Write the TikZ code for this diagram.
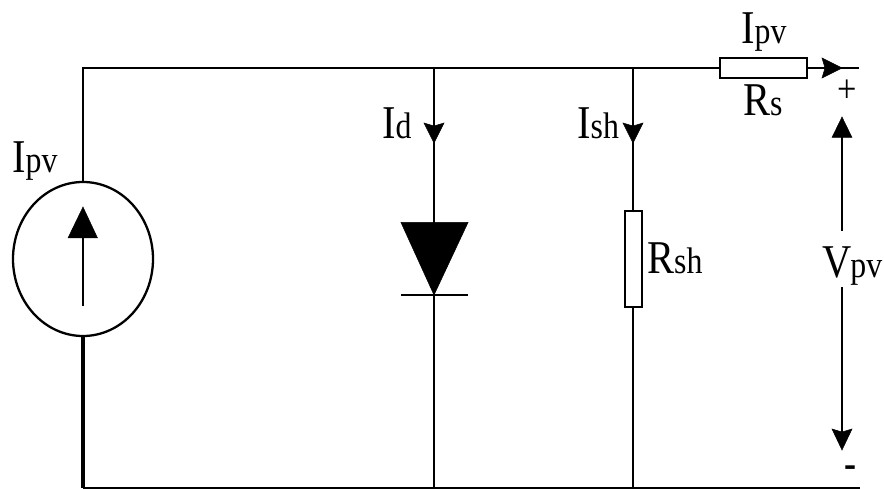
\documentclass[tikz,border=0pt]{standalone}
\usepackage{fontspec}
\usetikzlibrary{shapes.geometric}
\setmainfont[FakeStretch=0.86]{Liberation Serif}
\newcommand{\sbs}[1]{{\fontsize{37}{37}\selectfont #1}}
\begin{document}
\begin{tikzpicture}[x=1pt,y=-1pt,
  wire/.style={line width=2.3pt,black},
  comp/.style={draw=black,line width=2pt,fill=white,inner sep=0pt},
  tip/.style={fill=black,draw=black,line width=0.5pt,line join=miter},
  lab/.style={inner sep=0pt,anchor=base west,font=\fontsize{47}{47}\selectfont}]
\useasboundingbox (0,0) rectangle (884,489);
\coordinate (tl) at (83,68);
\coordinate (bl) at (83,488);
\coordinate (tr) at (859,68);
\coordinate (dt) at (434,68);
\coordinate (db) at (434,488);
\coordinate (st) at (633,68);
\coordinate (sb) at (633,488);
\coordinate (be) at (860,488);
\coordinate (va) at (842,136);
\coordinate (vb) at (842,231);
\coordinate (vc) at (842,287);
\coordinate (vd) at (842,432);
\coordinate (sa) at (83,236);
\coordinate (sc) at (83,306);
\coordinate (dl) at (401,295);
\coordinate (dr) at (468,295);
\node[draw=black,line width=2.3pt,ellipse,minimum width=140pt,minimum height=154pt,inner sep=0pt] (src) at (83,259) {};
\draw[wire] (src.north) -- (tl) -- (tr);
\draw[wire,line width=3.4pt] (src.south) -- (bl);
\draw[wire] (bl) -- (be);
\draw[wire] (dt) -- (db);
\draw[wire] (st) -- (sb);
\node[comp,minimum width=87pt,minimum height=19.5pt] (rs) at (763.5,68) {};
\node[comp,minimum width=17pt,minimum height=95pt] (rsh) at (633,259) {};
\filldraw[tip] (842,68) -- (822,58) -- (825,68) -- (822,78) -- cycle;
\filldraw[tip] (434,143) -- (424,123) -- (434,126) -- (444,123) -- cycle;
\filldraw[tip] (633,143) -- (623,123) -- (633,126) -- (643,123) -- cycle;
\filldraw[tip] (83,207) -- (68,238) -- (97.5,238) -- cycle;
\draw[wire] (sa) -- (sc);
\filldraw[tip] (401,222.5) -- (468,222.5) -- (434,295) -- cycle;
\draw[wire] (dl) -- (dr);
\filldraw[tip] (842,117) -- (832,137.5) -- (852,137.5) -- cycle;
\filldraw[tip] (842,450) -- (832,429) -- (842,432) -- (852,429) -- cycle;
\draw[wire] (va) -- (vb);
\draw[wire] (vc) -- (vd);
\node[lab] (a) at (12,173) {I\sbs{pv}};
\node[lab] (b) at (382,139) {I\sbs{d}};
\node[lab] (c) at (577,139) {I\sbs{sh}};
\node[lab] (d) at (741,43.5) {I\sbs{pv}};
\node[lab] (e) at (743,115.5) {R\sbs{s}};
\node[lab] (f) at (647,273) {R\sbs{sh}};
\node[lab] (g) at (822,278) {V\kern-1pt\sbs{pv}};
\node[inner sep=0pt,font=\fontsize{40}{40}\selectfont] (p) at (847,91) {+};
\node[inner sep=0pt,font=\fontsize{42}{42}\selectfont\bfseries] (m) at (851,472) {-};
\end{tikzpicture}
\end{document}
